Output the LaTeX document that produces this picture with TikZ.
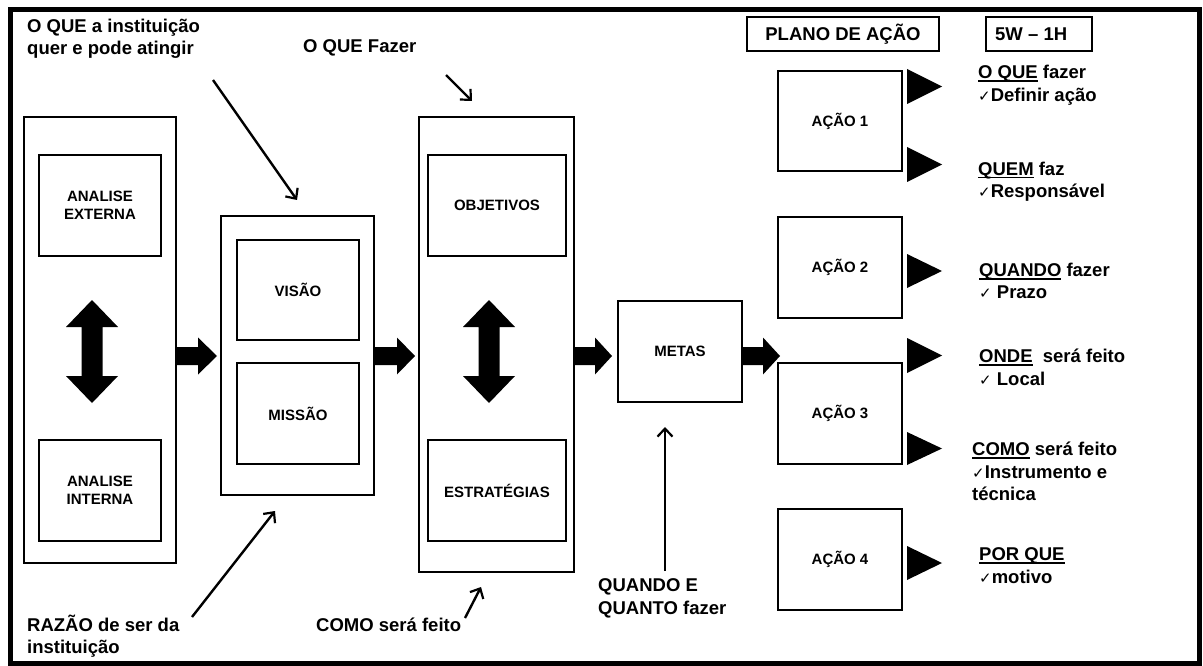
\documentclass[tikz,border=0pt]{standalone}
\usepackage{fontspec}
\setmainfont{Liberation Sans}
\newfontfamily\chkfont{DejaVu Sans}
\usetikzlibrary{arrows.meta}
\newcommand\ck{{\chkfont\fontsize{15}{15}\selectfont ✓}}
\newcommand\ul[1]{\setbox0\hbox{#1}\rlap{\raisebox{-3.2pt}{\rule{\wd0}{1.7pt}}}\box0\relax}
\newcommand\labfont{\fontsize{15}{18}\selectfont\bfseries}
\newcommand\annfont{\fontsize{18.5}{22.5}\selectfont\bfseries}
\newcommand\blockarr[4]{%
  \fill (#1,#4-9) -- (#2,#4-9) -- (#2,#4-18.5) -- (#3,#4) -- (#2,#4+18.5) -- (#2,#4+9) -- (#1,#4+9) -- cycle;}
\newcommand\dblarr[1]{%
  \fill (#1,300) -- (#1+26,327) -- (#1+10.5,327) -- (#1+10.5,376) -- (#1+26,376) -- (#1,403)
     -- (#1-26,376) -- (#1-10.5,376) -- (#1-10.5,327) -- (#1-26,327) -- cycle;}
\newcommand\tri[2]{\fill (907,#1) -- (942,#1/2+#2/2) -- (907,#2) -- cycle;}
\begin{document}
\begin{tikzpicture}[x=1pt,y=-1pt,
  box/.style={draw, line width=2.6pt, inner sep=0pt, align=center, font=\labfont},
  ann/.style={inner sep=0pt, align=left, font=\annfont},
  thin/.style={line width=2.4pt, -{Straight Barb[length=8pt,width=15pt,line width=2.2pt]}}]
\useasboundingbox (0,0) rectangle (1203,666);
\fill[white] (0,0) rectangle (1203,666);
\draw[line width=5pt] (10,9.5) rectangle (1199.5,663.5);

% containers
\node[box, minimum width=152pt, minimum height=446pt] (left) at (100,340) {};
\node[box, minimum width=153pt, minimum height=279pt] (mid) at (297.5,355.5) {};
\node[box, minimum width=155pt, minimum height=455pt] (third) at (496.5,344.5) {};

% inner boxes
\node[box, minimum width=122pt, minimum height=101pt] (ae) at (100,205.5) {ANALISE\\EXTERNA};
\node[box, minimum width=122pt, minimum height=101pt] (ai) at (100,490.5) {ANALISE\\INTERNA};
\node[box, minimum width=122pt, minimum height=100pt] (vis) at (298,290) {VISÃO};
\node[box, minimum width=122pt, minimum height=101pt] (mis) at (298,413.5) {MISSÃO};
\node[box, minimum width=138pt, minimum height=101pt] (obj) at (497,205.5) {OBJETIVOS};
\node[box, minimum width=138pt, minimum height=101pt] (est) at (497,490.5) {ESTRATÉGIAS};
\node[box, minimum width=124pt, minimum height=101pt] (metas) at (680,351.5) {METAS};
\node[box, minimum width=124pt, minimum height=100pt] (a1) at (840,121) {AÇÃO 1};
\node[box, minimum width=124pt, minimum height=101pt] (a2) at (840,267.5) {AÇÃO 2};
\node[box, minimum width=124pt, minimum height=101pt] (a3) at (840,413.5) {AÇÃO 3};
\node[box, minimum width=124pt, minimum height=101pt] (a4) at (840,559.5) {AÇÃO 4};
\node[box, minimum width=192pt, minimum height=34pt, font=\annfont] (plano) at (843,34) {PLANO DE AÇÃO};
\node[box, minimum width=106pt, minimum height=34pt] (w5) at (1039,34) {};
\node[ann, anchor=west] (w5t) at (995,34) {5W – 1H};

% block arrows
\blockarr{176}{198}{217}{356}
\blockarr{374}{397}{415}{356}
\blockarr{574}{595}{612}{356}
\blockarr{742}{763}{780}{356}
\dblarr{92}
\dblarr{489}

% triangles
\tri{69}{104}
\tri{147}{182}
\tri{254}{288}
\tri{338}{373}
\tri{432}{465}
\tri{546}{580}

% annotations
\node[ann, anchor=west] (oque) at (27,39) {O QUE a instituição\\quer e pode atingir};
\node[ann, anchor=west] (fazer) at (303,48) {O QUE Fazer};
\node[ann, anchor=west] (razao) at (27,636) {RAZÃO de ser da\\instituição};
\node[ann, anchor=west] (como) at (316,625) {COMO será feito};
\node[ann, anchor=west] (quando) at (598,598.5) {QUANDO E\\QUANTO fazer};

\node[ann, anchor=west] (r1) at (978,85) {\ul{O QUE} fazer\\\ck Definir ação};
\node[ann, anchor=west] (r2) at (978,181.5) {\ul{QUEM} faz\\\ck Responsável};
\node[ann, anchor=west] (r3) at (979,281) {\ul{QUANDO} fazer\\\ck\ Prazo};
\node[ann, anchor=west] (r4) at (979,367.5) {\ul{ONDE}\ \ será feito\\\ck\ Local};
\node[ann, anchor=west] (r5) at (972,471.5) {\ul{COMO} será feito\\\ck Instrumento e\\técnica};
\node[ann, anchor=west] (r6) at (979,565.5) {\ul{POR QUE}\\\ck motivo};

% thin arrows
\coordinate (t1s) at (213,80);   \coordinate (t1e) at (297,200);
\coordinate (t2s) at (446,75);   \coordinate (t2e) at (472,101);
\coordinate (t3s) at (192,617);  \coordinate (t3e) at (275,511);
\coordinate (t4s) at (465,618);  \coordinate (t4e) at (481,587);
\coordinate (t5s) at (665,571);  \coordinate (t5e) at (665,427);
\draw[thin] (t1s) -- (t1e);
\draw[thin] (t2s) -- (t2e);
\draw[thin] (t3s) -- (t3e);
\draw[thin] (t4s) -- (t4e);
\draw[thin] (t5s) -- (t5e);
\end{tikzpicture}
\end{document}
